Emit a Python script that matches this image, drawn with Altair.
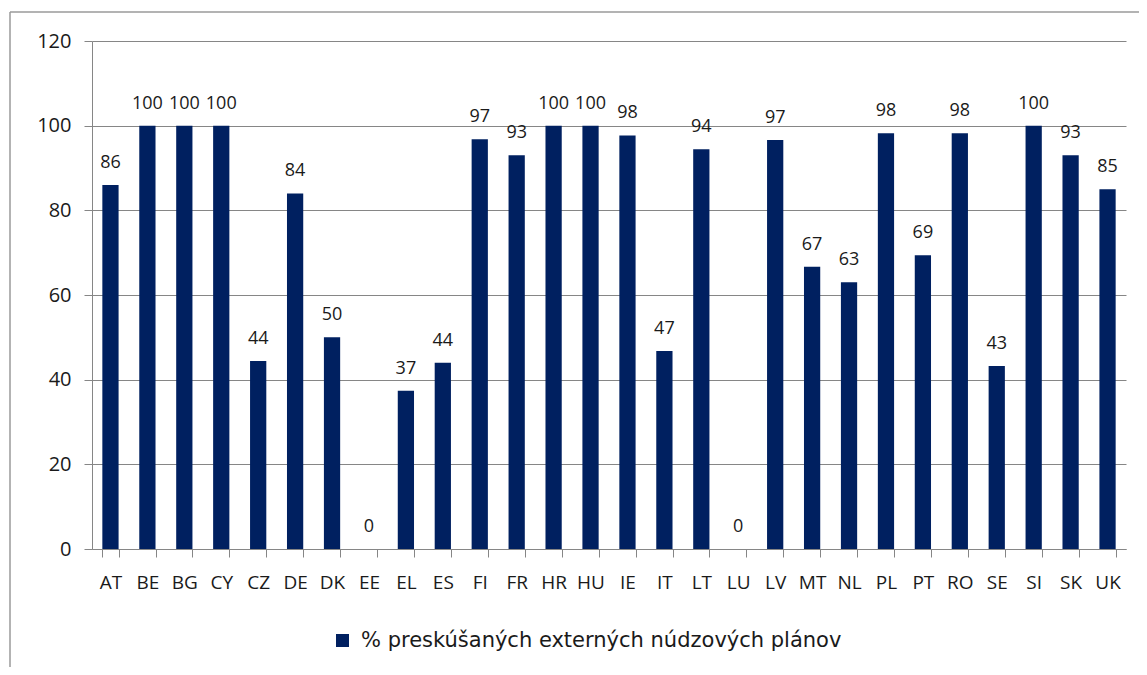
import altair as alt
import pandas as pd

countries = ["AT", "BE", "BG", "CY", "CZ", "DE", "DK", "EE", "EL", "ES", "FI", "FR", "HR", "HU",
             "IE", "IT", "LT", "LU", "LV", "MT", "NL", "PL", "PT", "RO", "SE", "SI", "SK", "UK"]
values = [86, 100, 100, 100, 44.4, 84, 50, 0, 37.4, 44, 96.8, 93, 100, 100,
          97.7, 46.8, 94.4, 0, 96.6, 66.7, 63, 98.2, 69.4, 98.2, 43.2, 100, 93, 85]
series_name = "% preskúšaných externých núdzových plánov"

df = pd.DataFrame({"country": countries, "value": values, "series": series_name})

FONT = "Open Sans"
W, H = 1034, 508
GRID = "#868686"
BAR = "#002060"
TXT = "#1a1a1a"

x_enc = alt.X("country:N", sort=countries, title=None,
              scale=alt.Scale(paddingInner=0.56, paddingOuter=0.28),
              axis=alt.Axis(labelAngle=0, labelFont=FONT, labelFontSize=19, labelColor=TXT,
                            labelPadding=16, tickBand="extent", tickSize=8, tickColor=GRID,
                            domainColor=GRID, grid=False))
y_enc = alt.Y("value:Q", title=None,
              scale=alt.Scale(domain=[0, 120], nice=False),
              axis=alt.Axis(values=[0, 20, 40, 60, 80, 100, 120], labelFont=FONT, labelFontSize=20,
                            labelColor=TXT, labelPadding=13, tickSize=8, tickColor=GRID,
                            domainColor=GRID, gridColor=GRID, grid=True))

bars = alt.Chart(df).mark_bar(color=BAR).encode(
    x=x_enc, y=y_enc,
    color=alt.Color("series:N", scale=alt.Scale(range=[BAR]), title=None,
                    legend=alt.Legend(orient="none", legendX=240, legendY=589, symbolType="square",
                                      symbolSize=170, symbolStrokeWidth=0, labelFont="DejaVu Sans",
                                      labelFontSize=21, labelColor=TXT, labelLimit=800,
                                      labelOffset=8)),
)

labels = alt.Chart(df).mark_text(font=FONT, fontSize=18, color=TXT, baseline="alphabetic",
                                 dy=-17).encode(
    x=alt.X("country:N", sort=countries),
    y="value:Q",
    text=alt.Text("value:Q", format=".0f"),
)

border = alt.Chart(pd.DataFrame({"k": [0]})).mark_rule(color="#9a9a9a", strokeWidth=1.5).encode(
    x=alt.value(-82), y=alt.value(-29), y2=alt.value(H + 200)
)
border_top = alt.Chart(pd.DataFrame({"k": [0]})).mark_rule(color="#9a9a9a", strokeWidth=1.5).encode(
    x=alt.value(-82), x2=alt.value(W + 200), y=alt.value(-29)
)

chart = alt.layer(border, border_top, bars, labels).properties(
    width=W, height=H,
    autosize=alt.AutoSizeParams(type="none"),
    padding={"left": 84, "top": 33, "right": 13, "bottom": 118},
).configure_view(stroke=None)

chart.save("out.html", embed_options={"renderer": "svg", "actions": False})
